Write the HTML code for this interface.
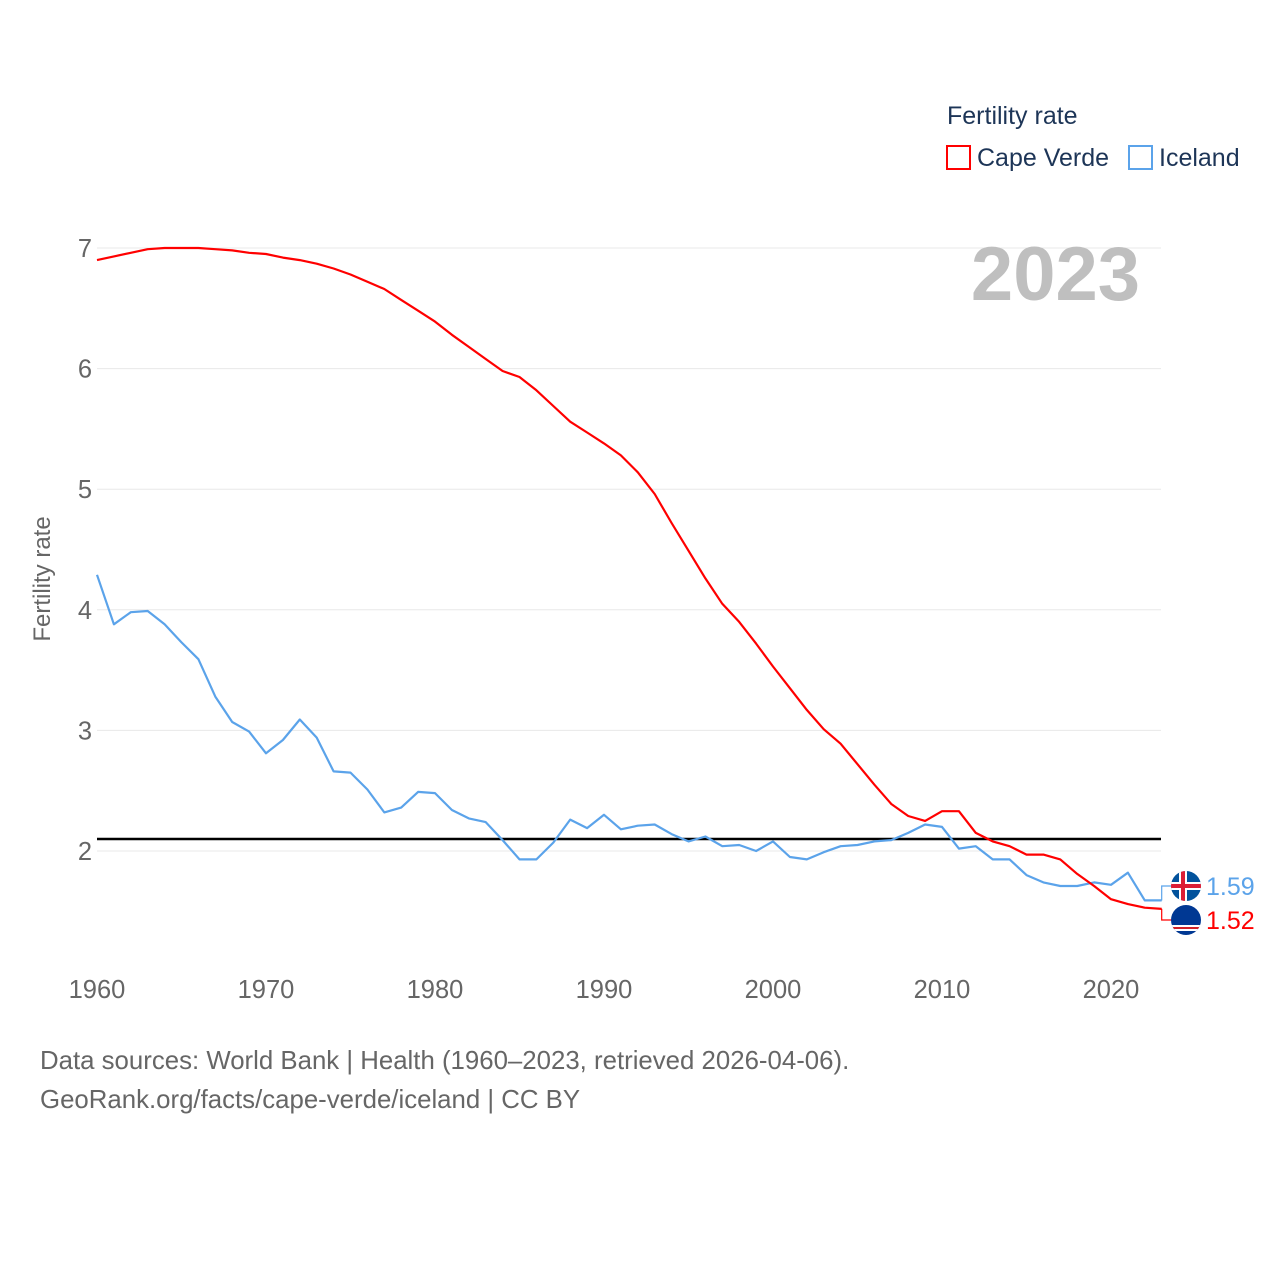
<!DOCTYPE html>
<html><head><meta charset="utf-8"><style>
html,body{margin:0;padding:0;background:#fff;}
svg text{font-family:"Liberation Sans",sans-serif;}
</style></head><body>
<svg width="1280" height="1280" viewBox="0 0 1280 1280" xmlns="http://www.w3.org/2000/svg">
<g id="grid"></g>
<g id="xticks"></g>
<text x="1140" y="300" text-anchor="end" font-size="76" font-weight="bold" fill="#bfbfbf">2023</text>
<text x="947" y="124" font-size="25" fill="#1d3557">Fertility rate</text>
<g>
<rect x="947" y="146" width="23" height="23" fill="none" stroke="#ff0000" stroke-width="2"/>
<text x="977" y="166" font-size="25" fill="#1d3557">Cape Verde</text></g>
<g>
<rect x="1129" y="146" width="23" height="23" fill="none" stroke="#5ba3ea" stroke-width="2"/>
<text x="1159" y="166" font-size="25" fill="#1d3557">Iceland</text></g>
<text transform="translate(50,579) rotate(-90)" text-anchor="middle" font-size="24" fill="#666">Fertility rate</text>
<g id="series"></g>
<text x="40" y="1069" font-size="25.8" fill="#666">Data sources: World Bank | Health (1960–2023, retrieved 2026-04-06).</text>
<text x="40" y="1108" font-size="25.8" fill="#666">GeoRank.org/facts/cape-verde/iceland | CC BY</text>
</svg>
<script>
const years = [];for(let y=1960;y<=2023;y++)years.push(y);
const iceland = [4.29,3.88,3.98,3.99,3.88,3.73,3.59,3.28,3.07,2.99,2.81,2.92,3.09,2.94,2.66,2.65,2.51,2.32,2.36,2.49,2.48,2.34,2.27,2.24,2.09,1.93,1.93,2.07,2.26,2.19,2.30,2.18,2.21,2.22,2.14,2.08,2.12,2.04,2.05,2.00,2.08,1.95,1.93,1.99,2.04,2.05,2.08,2.09,2.15,2.22,2.20,2.02,2.04,1.93,1.93,1.80,1.74,1.71,1.71,1.74,1.72,1.82,1.59,1.59];
const capeVerde = [6.90,6.93,6.96,6.99,7.00,7.00,7.00,6.99,6.98,6.96,6.95,6.92,6.90,6.87,6.83,6.78,6.72,6.66,6.57,6.48,6.39,6.28,6.18,6.08,5.98,5.93,5.82,5.69,5.56,5.47,5.38,5.28,5.14,4.96,4.72,4.49,4.26,4.05,3.90,3.72,3.53,3.35,3.17,3.01,2.89,2.72,2.55,2.39,2.29,2.25,2.33,2.33,2.15,2.08,2.04,1.97,1.97,1.93,1.81,1.71,1.60,1.56,1.53,1.52];
const yTicks = [2,3,4,5,6,7];
const xTicks = [1960,1970,1980,1990,2000,2010,2020];
const replacement = 2.1;
const NS="http://www.w3.org/2000/svg";
const X=y=>97+(y-1960)*(1014/60);
const Y=v=>248+(7-v)*120.6;
function mk(t,a,p){const e=document.createElementNS(NS,t);for(const k in a)e.setAttribute(k,a[k]);p.appendChild(e);return e;}
const grid=document.getElementById('grid');
yTicks.forEach(v=>{
 const l=mk('line',{x1:97,x2:1161,y1:Y(v),y2:Y(v),stroke:'#e8e8e8','stroke-width':1},grid);
 
 
 const t=mk('text',{x:92,y:Y(v)+9,'text-anchor':'end','font-size':25.5,fill:'#666'},grid);t.textContent=v;
 
 
});
const xt=document.getElementById('xticks');
xTicks.forEach(v=>{
 const t=mk('text',{x:X(v),y:998,'text-anchor':'middle','font-size':25.5,fill:'#666'},xt);t.textContent=v;
 
 
});
const s=document.getElementById('series');
const rl=mk('line',{x1:97,x2:1161,y1:Y(replacement),y2:Y(replacement),stroke:'#000','stroke-width':2.5},s);


function series(vals,col,name,fy){
 const pts=vals.map((v,i)=>X(years[i]).toFixed(1)+','+Y(v).toFixed(1));
 const p=mk('polyline',{points:pts.join(' '),fill:'none',stroke:col,'stroke-width':2.2,'stroke-linejoin':'round'},s);
 
 
 const lx=X(2023),ly=Y(vals[vals.length-1]);
 const c=mk('polyline',{points:`${lx},${ly} ${lx},${fy} 1172,${fy}`,fill:'none',stroke:col,'stroke-width':1.2},s);
 
 
 const t=mk('text',{x:1206,y:fy+9,'font-size':25,fill:col},s);t.textContent=vals[vals.length-1].toFixed(2);
 
 
}
series(iceland,'#5ba3ea','iceland',886);
series(capeVerde,'#ff0000','cape-verde',920);
const fi=mk('g',{},s);


const cp1=mk('clipPath',{id:'c1'},fi);mk('circle',{cx:1186,cy:886,r:15},cp1);
const gi=mk('g',{'clip-path':'url(#c1)'},fi);
mk('rect',{x:1171,y:871,width:30,height:30,fill:'#02529c'},gi);
mk('rect',{x:1171,y:882,width:30,height:8,fill:'#fff'},gi);
mk('rect',{x:1179,y:871,width:8,height:30,fill:'#fff'},gi);
mk('rect',{x:1171,y:884,width:30,height:4,fill:'#dc1e35'},gi);
mk('rect',{x:1181,y:871,width:4,height:30,fill:'#dc1e35'},gi);
const fc=mk('g',{},s);


const cp=mk('clipPath',{id:'c2'},fc);mk('circle',{cx:1186,cy:920,r:15},cp);
const gc=mk('g',{'clip-path':'url(#c2)'},fc);
mk('rect',{x:1171,y:905,width:30,height:30,fill:'#003893'},gc);
mk('rect',{x:1171,y:925,width:30,height:6,fill:'#fff'},gc);
mk('rect',{x:1171,y:927,width:30,height:2,fill:'#cf2027'},gc);
</script>
</body></html>
